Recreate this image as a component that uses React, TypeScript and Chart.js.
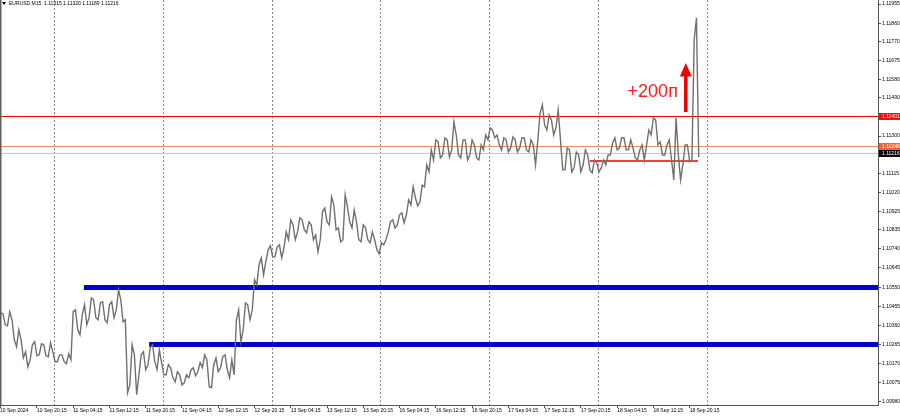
import React, { useEffect, useRef } from "react";
import { Chart, registerables } from "chart.js";

Chart.register(...registerables);

// ---- data (trading-hour index since 10 Sep 2024 00:00, weekend removed) ----
const HOUR_START = 12; // first hourly bar: 10 Sep 12:00

const HIGHS = [
  1.10423, 1.10418, 1.10428, 1.10388, 1.10338, 1.10289, 1.10229, 1.10264, 1.10279, 1.10269, 1.10264, 1.10274,
  1.10229, 1.10214, 1.10214, 1.10219, 1.10428, 1.10437, 1.10413, 1.10462, 1.10497, 1.10487, 1.10472, 1.10477,
  1.10462, 1.10477, 1.10537, 1.10487, 1.10388, 1.10264, 1.10214, 1.10214, 1.10229, 1.10249, 1.10264, 1.10239,
  1.10175, 1.10165, 1.1015, 1.1013, 1.10115, 1.10115, 1.1014, 1.1015, 1.10175, 1.10214, 1.10189, 1.10165,
  1.10199, 1.10204, 1.10214, 1.10189, 1.10388, 1.10437, 1.10472, 1.10462, 1.10586, 1.10661, 1.10695, 1.10735,
  1.10755, 1.1075, 1.1076, 1.10824, 1.10884, 1.10859, 1.10894, 1.10884, 1.10874, 1.10859, 1.10809, 1.10924,
  1.10943, 1.10998, 1.10958, 1.10844, 1.11008, 1.10948, 1.10933, 1.10874, 1.10859, 1.10844, 1.10824, 1.10785,
  1.1077, 1.10785, 1.10874, 1.10884, 1.10909, 1.10919, 1.10983, 1.11048, 1.10993, 1.11057, 1.11157, 1.11231,
  1.11281, 1.11271, 1.11291, 1.11281, 1.1137, 1.11305, 1.11281, 1.11281, 1.11281, 1.11256, 1.11256, 1.11305,
  1.1134, 1.1133, 1.11305, 1.11291, 1.11281, 1.11296, 1.11281, 1.11291, 1.11291, 1.11281, 1.11256, 1.11414,
  1.11454, 1.11405, 1.1138, 1.11429, 1.11281, 1.11241, 1.11231, 1.11221, 1.11206, 1.11231, 1.11206, 1.11181,
  1.11167, 1.11181, 1.11206, 1.11266, 1.11291, 1.11291, 1.11291, 1.11281, 1.11241, 1.11231, 1.11256, 1.1133,
  1.1139, 1.1138, 1.11271, 1.11256, 1.11281, 1.1139, 1.11206, 1.11256, 1.11256, 1.11777, 1.11886,
];

const LOWS = [
  1.10353, 1.10363, 1.10358, 1.10289, 1.10254, 1.10199, 1.10155, 1.10189, 1.10209, 1.10214, 1.10209, 1.10204,
  1.1018, 1.1018, 1.1018, 1.1017, 1.10189, 1.10338, 1.10313, 1.10363, 1.10398, 1.10398, 1.10388, 1.10388,
  1.10373, 1.10398, 1.10437, 1.10378, 1.10026, 1.10065, 1.10016, 1.10115, 1.1014, 1.10165, 1.1018, 1.1014,
  1.10115, 1.10115, 1.101, 1.1008, 1.10065, 1.10075, 1.101, 1.1011, 1.1013, 1.1015, 1.10056, 1.10051,
  1.1013, 1.1015, 1.1014, 1.101, 1.10115, 1.10279, 1.10338, 1.10388, 1.10437, 1.10561, 1.10611, 1.10676,
  1.107, 1.107, 1.10695, 1.10745, 1.10785, 1.10785, 1.10824, 1.10834, 1.10819, 1.10785, 1.10725, 1.10785,
  1.10874, 1.10859, 1.10834, 1.10775, 1.10785, 1.10874, 1.10844, 1.10785, 1.10775, 1.10785, 1.1077, 1.10735,
  1.10715, 1.1076, 1.10824, 1.10844, 1.10859, 1.10869, 1.10909, 1.10958, 1.10953, 1.10973, 1.11048, 1.11122,
  1.11181, 1.11191, 1.11206, 1.11196, 1.11231, 1.11206, 1.11191, 1.11181, 1.11206, 1.11191, 1.11181, 1.11231,
  1.11281, 1.11291, 1.11256, 1.11231, 1.11221, 1.11241, 1.11221, 1.11241, 1.11231, 1.11221, 1.11157, 1.11281,
  1.11355, 1.1133, 1.11305, 1.1134, 1.11132, 1.11132, 1.11122, 1.11142, 1.11122, 1.11157, 1.11132, 1.11117,
  1.11122, 1.11142, 1.11157, 1.11206, 1.11231, 1.11241, 1.11231, 1.11231, 1.11191, 1.11181, 1.11181, 1.11256,
  1.11305, 1.11256, 1.11206, 1.11206, 1.11181, 1.11082, 1.11082, 1.11157, 1.11172, 1.11181, 1.11196,
];

const Y_TICKS = [
  1.11955, 1.1186, 1.1177, 1.11675, 1.1158, 1.1149, 1.113, 1.11115, 1.1102, 1.10925,
  1.10835, 1.1074, 1.10645, 1.1055, 1.10455, 1.1036, 1.10265, 1.1017, 1.10075, 1.0998,
];
const Y_MIN = 1.09965;
const Y_MAX = 1.11975;

const X_TICK_POS = [
  12.1, 20.25, 28.25, 36.25, 44.25, 52.25, 60.25, 68.25, 76.25, 84.25,
  92.25, 100.25, 108.25, 116.25, 124.25, 132.25, 140.25, 148.25, 156.25, 164.25,
];
const X_TICK_LABELS = [
  "10 Sep 2024", "10 Sep 20:15", "11 Sep 04:15", "11 Sep 12:15", "11 Sep 20:15",
  "12 Sep 04:15", "12 Sep 12:15", "12 Sep 20:15", "13 Sep 04:15", "13 Sep 12:15",
  "13 Sep 20:15", "16 Sep 04:15", "16 Sep 12:15", "16 Sep 20:15", "17 Sep 04:15",
  "17 Sep 12:15", "17 Sep 20:15", "18 Sep 04:15", "18 Sep 12:15", "18 Sep 20:15",
];
const X_MIN = 12.1;
const X_MAX = 205.8;
const DAY_BREAKS = [24, 48, 72, 96, 120, 144, 168];

const TITLE = "EURUSD.M15  1.11315 1.11320 1.11189 1.11216";

const RESISTANCE = 1.11401;
const ASK = 1.11248;
const BID = 1.11216;
const RANGE_LOW = { value: 1.11176, from: 142.2, to: 166.1 };
const BLUE_LEVELS = [
  { value: 1.10553, from: 30.6 },
  { value: 1.1027, from: 45 },
];
const ARROW = { x: 163.4, base: 1.11419, headBase: 1.11598, tip: 1.11662 };
const NOTE = { text: "+200п", x: 161.65, y: 1.11494 };

const FONT = '"Liberation Sans", Arial, sans-serif';

const overlay = {
  id: "overlay",
  beforeDatasetsDraw(chart: any) {
    const { ctx, chartArea: a, scales } = chart;
    const x = scales.x;
    const y = scales.y;
    ctx.save();
    // day separators
    ctx.strokeStyle = "#8a8a8a";
    ctx.lineWidth = 1;
    ctx.setLineDash([2, 2]);
    DAY_BREAKS.forEach((h) => {
      const px = Math.round(x.getPixelForValue(h)) + 0.5;
      if (px < a.left || px > a.right) return;
      ctx.beginPath();
      ctx.moveTo(px, a.top);
      ctx.lineTo(px, a.bottom);
      ctx.stroke();
    });
    ctx.setLineDash([]);

    const hline = (v: number, x0: number, x1: number, color: string, w: number) => {
      const py = y.getPixelForValue(v);
      const yy = w % 2 === 1 ? Math.round(py) + 0.5 : Math.round(py);
      ctx.strokeStyle = color;
      ctx.lineWidth = w;
      ctx.beginPath();
      ctx.moveTo(x0, yy);
      ctx.lineTo(x1, yy);
      ctx.stroke();
    };
    hline(BID, a.left, a.right, "#c8c8c8", 1);
    hline(ASK, a.left, a.right, "#f08a6a", 1);
    hline(RESISTANCE, a.left, a.right, "#ff0000", 1);
    hline(RANGE_LOW.value, x.getPixelForValue(RANGE_LOW.from), x.getPixelForValue(RANGE_LOW.to), "#ee0000", 1.5);
    BLUE_LEVELS.forEach((b) => hline(b.value, x.getPixelForValue(b.from), a.right, "#0000c8", 5));
    ctx.restore();
  },
  afterDraw(chart: any) {
    const { ctx, chartArea: a, scales, width } = chart;
    const x = scales.x;
    const y = scales.y;
    ctx.save();
    // left frame
    ctx.strokeStyle = "#606060";
    ctx.lineWidth = 1.5;
    ctx.beginPath();
    ctx.moveTo(a.left + 0.75, a.top);
    ctx.lineTo(a.left + 0.75, a.bottom);
    ctx.stroke();

    // arrow
    const ax = x.getPixelForValue(ARROW.x);
    const yb = y.getPixelForValue(ARROW.base);
    const yh = y.getPixelForValue(ARROW.headBase);
    const yt = y.getPixelForValue(ARROW.tip);
    ctx.fillStyle = "#ee0000";
    ctx.fillRect(ax - 1.75, yh, 3.5, yb - yh);
    ctx.beginPath();
    ctx.moveTo(ax - 6, yh + 0.5);
    ctx.lineTo(ax + 6, yh + 0.5);
    ctx.lineTo(ax, yt);
    ctx.closePath();
    ctx.fill();

    // note
    ctx.fillStyle = "#ff1a1a";
    ctx.font = `18px ${FONT}`;
    ctx.textAlign = "right";
    ctx.textBaseline = "alphabetic";
    ctx.fillText(NOTE.text, x.getPixelForValue(NOTE.x), y.getPixelForValue(NOTE.y));

    // price labels on the axis
    const tag = (v: number, bg: string, fg: string) => {
      const py = Math.round(y.getPixelForValue(v));
      ctx.fillStyle = bg;
      ctx.fillRect(a.right + 1, py - 3, width - a.right - 1, 7);
      ctx.fillStyle = fg;
      ctx.font = `5px ${FONT}`;
      ctx.textAlign = "left";
      ctx.textBaseline = "middle";
      ctx.fillText(v.toFixed(5), a.right + 4, py + 0.5);
    };
    tag(RESISTANCE, "#ee1111", "#ffffff");
    tag(ASK, "#f0643c", "#ffffff");
    tag(BID, "#000000", "#ffffff");

    // title
    ctx.fillStyle = "#000";
    ctx.beginPath();
    ctx.moveTo(2, 2);
    ctx.lineTo(6, 2);
    ctx.lineTo(4, 5);
    ctx.closePath();
    ctx.fill();
    ctx.font = `5px ${FONT}`;
    ctx.textAlign = "left";
    ctx.textBaseline = "middle";
    ctx.fillText(TITLE, 9, 3.5);
    ctx.restore();
  },
};

// Hourly high/low range traced as a continuous zigzag (each hour visits both extremes,
// starting from the one nearer to where the previous hour ended).
function buildTrace() {
  const pts: { x: number; y: number }[] = [];
  let last = (HIGHS[0] + LOWS[0]) / 2;
  HIGHS.forEach((hi, i) => {
    const lo = LOWS[i];
    const h = HOUR_START + i;
    const first = Math.abs(hi - last) < Math.abs(lo - last) ? hi : lo;
    const second = first === hi ? lo : hi;
    pts.push({ x: h - 0.25, y: first });
    pts.push({ x: h + 0.25, y: second });
    last = second;
  });
  return pts;
}

export default function App() {
  const ref = useRef<HTMLCanvasElement | null>(null);
  useEffect(() => {
    if (!ref.current) return;
    const chart = new Chart(ref.current, {
      type: "line",
      data: {
        datasets: [
          {
            data: buildTrace() as any,
            borderColor: "#707070",
            borderWidth: 1.4,
            pointRadius: 0,
            tension: 0,
            fill: false,
          },
        ],
      },
      options: {
        animation: false,
        responsive: false,
        devicePixelRatio: 1,
        layout: { padding: 0 },
        plugins: { legend: { display: false }, tooltip: { enabled: false }, title: { display: false } },
        scales: {
          x: {
            type: "linear",
            min: X_MIN,
            max: X_MAX,
            offset: false,
            afterBuildTicks: (s: any) => {
              s.ticks = X_TICK_POS.map((v) => ({ value: v }));
            },
            afterFit: (s: any) => {
              s.height = 11;
              s.paddingLeft = 0;
              s.paddingRight = 0;
            },
            ticks: {
              autoSkip: false,
              maxRotation: 0,
              align: "start",
              padding: 0,
              color: "#000",
              font: { family: FONT, size: 5 },
              callback: (v: any) => {
                const i = X_TICK_POS.indexOf(Number(v));
                return i >= 0 ? X_TICK_LABELS[i] : "";
              },
            },
            grid: { drawOnChartArea: false, offset: false, tickLength: 3, color: "#555" },
            border: { display: true, color: "#555", width: 1 },
          },
          y: {
            type: "linear",
            position: "right",
            min: Y_MIN,
            max: Y_MAX,
            afterBuildTicks: (s: any) => {
              s.ticks = Y_TICKS.map((v) => ({ value: v }));
            },
            afterFit: (s: any) => {
              s.width = 22;
              s.paddingTop = 0;
              s.paddingBottom = 0;
            },
            ticks: {
              padding: 1,
              color: "#000",
              font: { family: FONT, size: 5 },
              callback: (v: any) => Number(v).toFixed(5),
            },
            grid: { drawOnChartArea: false, tickLength: 3, color: "#555" },
            border: { display: true, color: "#555", width: 1 },
          },
        },
      },
      plugins: [overlay],
    });
    return () => chart.destroy();
  }, []);
  return (
    <div style={{ position: "fixed", left: 0, top: 0, width: 900, height: 416, background: "#fff" }}>
      <canvas ref={ref} width={900} height={416} style={{ display: "block", width: 900, height: 416 }} />
    </div>
  );
}
